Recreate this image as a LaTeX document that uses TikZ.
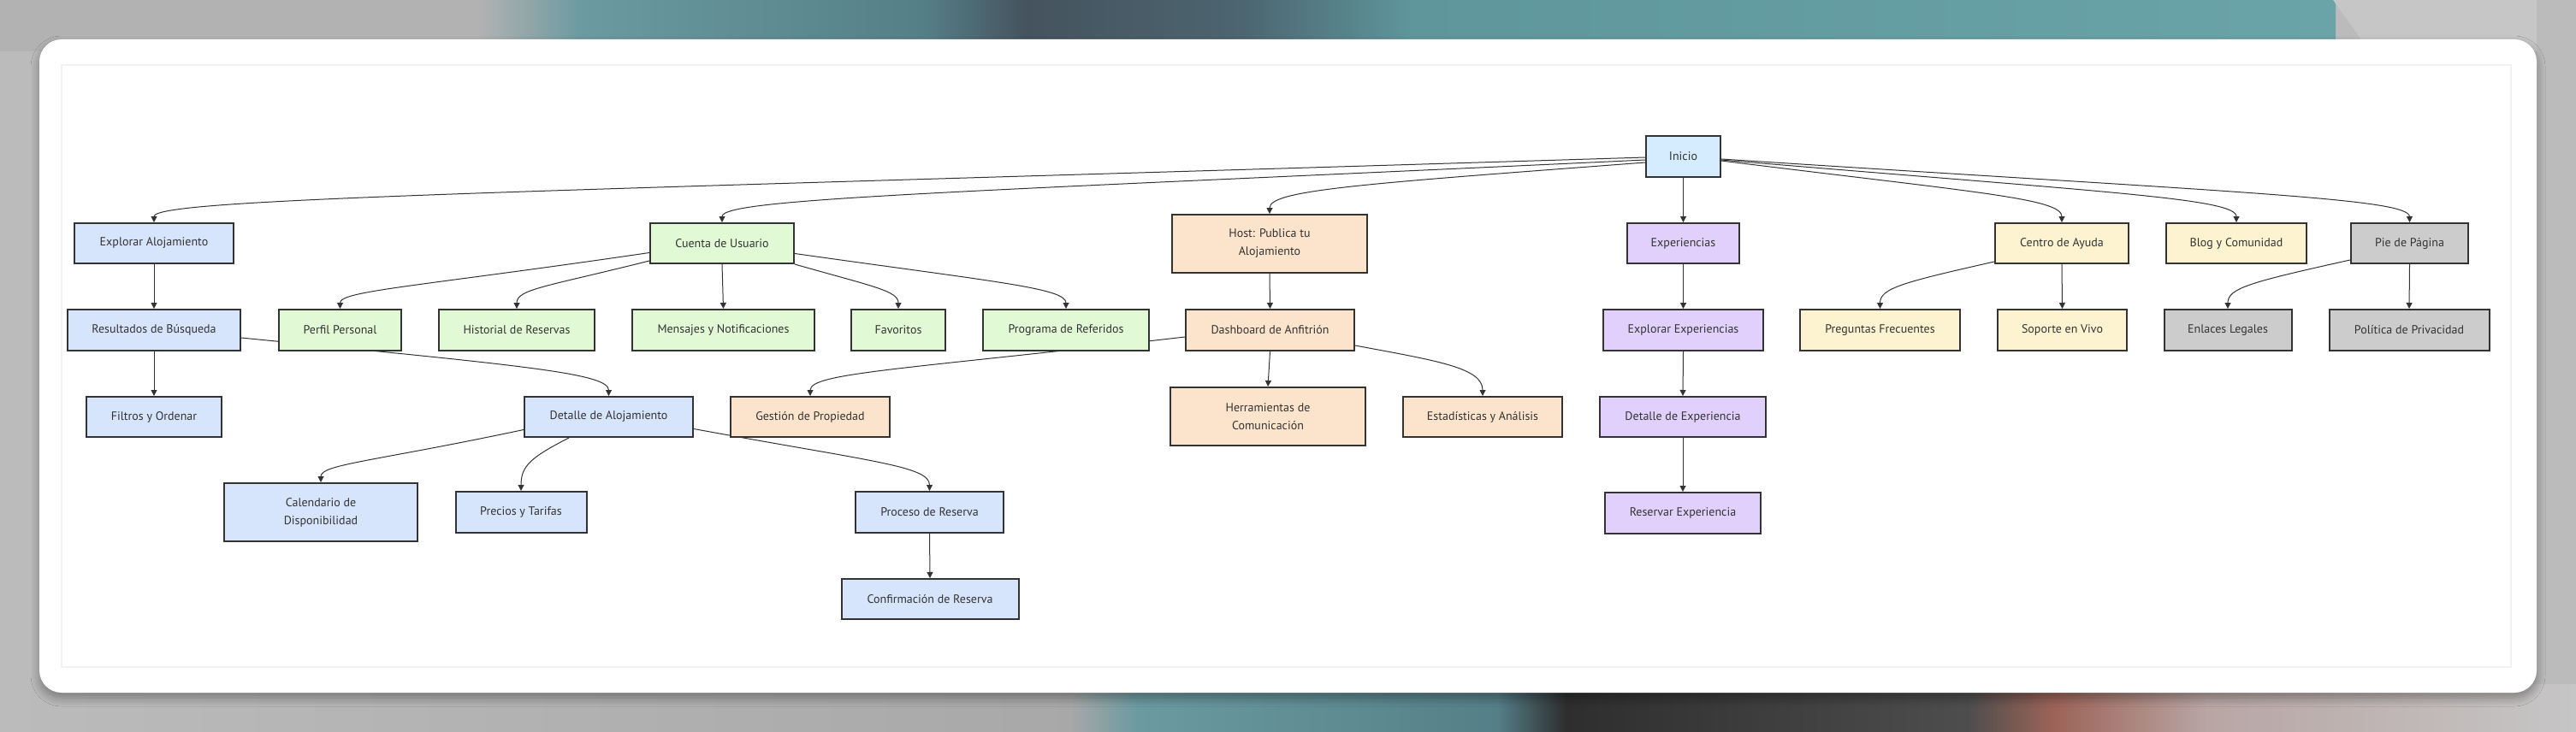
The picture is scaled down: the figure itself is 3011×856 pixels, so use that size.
\documentclass[tikz,border=0pt]{standalone}
\usepackage{fontspec}
\setmainfont{PT Sans}
\usetikzlibrary{arrows.meta,calc,shadows.blur}
\definecolor{ln}{HTML}{333333}
\definecolor{txt}{HTML}{333333}
\definecolor{cinicio}{HTML}{D4ECFE}
\definecolor{cblue}{HTML}{D6E4FC}
\definecolor{cgreen}{HTML}{E2F9D6}
\definecolor{cpeach}{HTML}{FCE4CC}
\definecolor{cpurple}{HTML}{E1D0FB}
\definecolor{cyellow}{HTML}{FDF3D1}
\definecolor{cgray}{HTML}{CCCCCC}
\definecolor{bggray}{HTML}{BBBBBB}
\definecolor{tealA}{HTML}{6B9AA0}
\definecolor{tealB}{HTML}{557F88}
\definecolor{slate}{HTML}{45535E}
\definecolor{slateB}{HTML}{4C6570}
\definecolor{tealC}{HTML}{5E969C}
\definecolor{tealD}{HTML}{6AA3A8}
\definecolor{rgray}{HTML}{C6C6C6}
\definecolor{dark}{HTML}{2E2E2E}
\definecolor{brown}{HTML}{9C6357}
\definecolor{pinkg}{HTML}{B8A6A4}
\pgfdeclarelayer{bg}
\pgfdeclarelayer{edges}
\pgfsetlayers{bg,edges,main}
\begin{document}
\begin{tikzpicture}[x=1pt,y=-1pt,
  box/.style={draw=ln, line width=2pt, inner sep=0pt, text=txt, align=center,
    font=\fontsize{14}{21}\selectfont, minimum height=47pt},
  ginicio/.style={box, fill=cinicio},
  gblue/.style={box, fill=cblue},
  ggreen/.style={box, fill=cgreen},
  gpeach/.style={box, fill=cpeach},
  gpurple/.style={box, fill=cpurple},
  gyellow/.style={box, fill=cyellow},
  ggray/.style={box, fill=cgray},
  edge/.style={draw=ln, line width=1pt, -{Triangle[length=7pt,width=7pt]}}
]
\useasboundingbox (0,0) rectangle (3011,856);

% ---------- background ----------
\begin{pgfonlayer}{bg}
\fill[bggray] (0,0) rectangle (3011,856);
\fill[bggray!95!black] (0,0) rectangle (560,60);
\shade[left color=bggray!95!black, right color=tealA] (560,0) rectangle (680,60);
\shade[left color=tealA, right color=tealB] (680,0) rectangle (1080,60);
\shade[left color=tealB, right color=slate] (1080,0) rectangle (1200,60);
\shade[left color=slate, right color=slateB] (1200,0) rectangle (1450,60);
\shade[left color=slateB, right color=tealC] (1450,0) rectangle (1650,60);
\shade[left color=tealC, right color=tealD] (1650,0) rectangle (2730,60);
\fill[rgray] (2727,0) -- (3011,0) -- (3011,60) -- (2770,60) -- cycle;
\fill[bggray] (2965,0) rectangle (3011,856);
\shade[left color=bggray, right color=bggray!90!black] (0,800) rectangle (1250,856);
\shade[left color=bggray!90!black, right color=tealA] (1250,800) rectangle (1330,856);
\shade[left color=tealA, right color=tealB] (1330,800) rectangle (1750,856);
\shade[left color=tealB, right color=dark] (1750,800) rectangle (1830,856);
\shade[left color=dark, right color=dark!85!white] (1830,800) rectangle (2300,856);
\shade[left color=dark!85!white, right color=brown] (2300,800) rectangle (2400,856);
\shade[left color=brown, right color=pinkg] (2400,800) rectangle (2580,856);
\shade[left color=pinkg, right color=rgray] (2580,800) rectangle (3011,856);
\fill[white, rounded corners=26pt,
  blur shadow={shadow blur steps=10, shadow xshift=0pt, shadow yshift=-6pt, shadow opacity=35, shadow blur radius=10pt}]
  (46,46) rectangle (2965,810);
\draw[black!5, line width=1.5pt] (72,76) rectangle (2935,780);
\end{pgfonlayer}

% ---------- nodes ----------
\node[ginicio, minimum width=87pt, minimum height=48pt] (Inicio) at (1967.5,183) {Inicio};

\node[gblue,   minimum width=186pt] (EA) at (180,284.5) {Explorar Alojamiento};
\node[ggreen,  minimum width=168pt] (CU) at (844,284.5) {Cuenta de Usuario};
\node[gpeach,  minimum width=228pt, minimum height=68pt] (HO) at (1484,285) {Host: Publica tu\\Alojamiento};
\node[gpurple, minimum width=131pt] (EX) at (1967.5,284.5) {Experiencias};
\node[gyellow, minimum width=156pt] (CA) at (2410,284.5) {Centro de Ayuda};
\node[gyellow, minimum width=164pt] (BC) at (2614,284.5) {Blog y Comunidad};
\node[ggray,   minimum width=137pt] (PP) at (2816.5,284.5) {Pie de Página};

\node[gblue,   minimum width=202pt, minimum height=48pt] (RB) at (180,386) {Resultados de Búsqueda};
\node[ggreen,  minimum width=143pt, minimum height=48pt] (PE) at (397.5,386) {Perfil Personal};
\node[ggreen,  minimum width=182pt, minimum height=48pt] (HR) at (604,386) {Historial de Reservas};
\node[ggreen,  minimum width=213pt, minimum height=48pt] (MN) at (845.5,386) {Mensajes y Notificaciones};
\node[ggreen,  minimum width=110pt, minimum height=48pt] (FA) at (1050,386) {Favoritos};
\node[ggreen,  minimum width=194pt, minimum height=48pt] (PR) at (1246,386) {Programa de Referidos};
\node[gpeach,  minimum width=197pt, minimum height=48pt] (DA) at (1484.5,386) {Dashboard de Anfitrión};
\node[gpurple, minimum width=187pt, minimum height=48pt] (EE) at (1967.5,386) {Explorar Experiencias};
\node[gyellow, minimum width=187pt, minimum height=48pt] (PF) at (2197.5,386) {Preguntas Frecuentes};
\node[gyellow, minimum width=151pt, minimum height=48pt] (SV) at (2410.5,386) {Soporte en Vivo};
\node[ggray,   minimum width=149pt, minimum height=48pt] (EL) at (2604,386) {Enlaces Legales};
\node[ggray,   minimum width=187pt, minimum height=48pt] (PO) at (2816,386) {Política de Privacidad};

\node[gblue,   minimum width=158pt] (FO) at (180,487.5) {Filtros y Ordenar};
\node[gblue,   minimum width=197pt] (DAl) at (711.5,487.5) {Detalle de Alojamiento};
\node[gpeach,  minimum width=186pt] (GP) at (947,487.5) {Gestión de Propiedad};
\node[gpeach,  minimum width=228pt, minimum height=68pt] (HC) at (1482,487) {Herramientas de\\Comunicación};
\node[gpeach,  minimum width=186pt] (ES) at (1733,487.5) {Estadísticas y Análisis};
\node[gpurple, minimum width=194pt] (DE) at (1967,487.5) {Detalle de Experiencia};

\node[gblue,   minimum width=226pt, minimum height=68pt] (CD) at (375,599) {Calendario de\\Disponibilidad};
\node[gblue,   minimum width=153pt, minimum height=48pt] (PT) at (609,599) {Precios y Tarifas};
\node[gblue,   minimum width=173pt, minimum height=48pt] (PRs) at (1086.5,599) {Proceso de Reserva};
\node[gpurple, minimum width=182pt, minimum height=48pt] (RE) at (1967,600) {Reservar Experiencia};

\node[gblue,   minimum width=207pt] (CR) at (1087,700.5) {Confirmación de Reserva};

% ---------- edges ----------
\begin{pgfonlayer}{edges}
\draw[edge] ($(Inicio.west)+(0,1)$) .. controls (600,225) and (180,232) .. (EA.north);
\draw[edge] ($(Inicio.west)+(0,4)$) .. controls (1114,225) and (844,232) .. (CU.north);
\draw[edge] ($(Inicio.west)+(0,7)$) .. controls (1594,215) and (1484,222) .. (HO.north);
\draw[edge] (Inicio.south) -- (EX.north);
\draw[edge] ($(Inicio.east)+(0,5)$) .. controls (2310,225) and (2410,232) .. (CA.north);
\draw[edge] ($(Inicio.east)+(0,4)$) .. controls (2464,225) and (2614,232) .. (BC.north);
\draw[edge] ($(Inicio.east)+(0,3)$) .. controls (2615,225) and (2816,232) .. (PP.north);

\draw[edge] ($(CU.west)+(0,11)$) .. controls (490,335) and (397.5,340) .. (PE.north);
\draw[edge] ($(CU.south west)+(0,-4)$) .. controls (640,335) and (604,338) .. (HR.north);
\draw[edge] (CU.south) -- (MN.north);
\draw[edge] (CU.south east) .. controls (1020,335) and (1050,340) .. (FA.north);
\draw[edge] ($(CU.east)+(0,12)$) .. controls (1166,330) and (1246,337) .. (PR.north);

\draw[edge] (EA.south) -- (RB.north);
\draw[edge] (RB.south) -- (FO.north);
\draw[edge] ($(RB.east)+(0,9)$) .. controls (604,427) and (711.5,436) .. (DAl.north);

\draw[edge] (HO.south) -- (DA.north);
\draw[edge] ($(DA.west)+(0,8)$) .. controls (1057,432) and (947,436) .. (GP.north);
\draw[edge] (DA.south) -- (HC.north);
\draw[edge] ($(DA.east)+(0,18)$) .. controls (1680,422) and (1733,430) .. (ES.north);

\draw[edge] ($(DAl.west)+(0,15)$) .. controls (435,540) and (375,543) .. (CD.north);
\draw[edge] ($(DAl.south west)+(53,0)$) .. controls (620,535) and (609,545) .. (PT.north);
\draw[edge] ($(DAl.east)+(0,14)$) .. controls (1020,540) and (1086.5,545) .. (PRs.north);
\draw[edge] (PRs.south) -- (CR.north);

\draw[edge] (EX.south) -- (EE.north);
\draw[edge] (EE.south) -- (DE.north);
\draw[edge] (DE.south) -- (RE.north);

\draw[edge] ($(CA.south west)+(0,-3)$) .. controls (2225,330) and (2197.5,337) .. (PF.north);
\draw[edge] (CA.south) -- (SV.north);
\draw[edge] ($(PP.south west)+(0,-5)$) .. controls (2630,330) and (2604,337) .. (EL.north);
\draw[edge] (PP.south) -- (PO.north);
\end{pgfonlayer}
\end{tikzpicture}
\end{document}
